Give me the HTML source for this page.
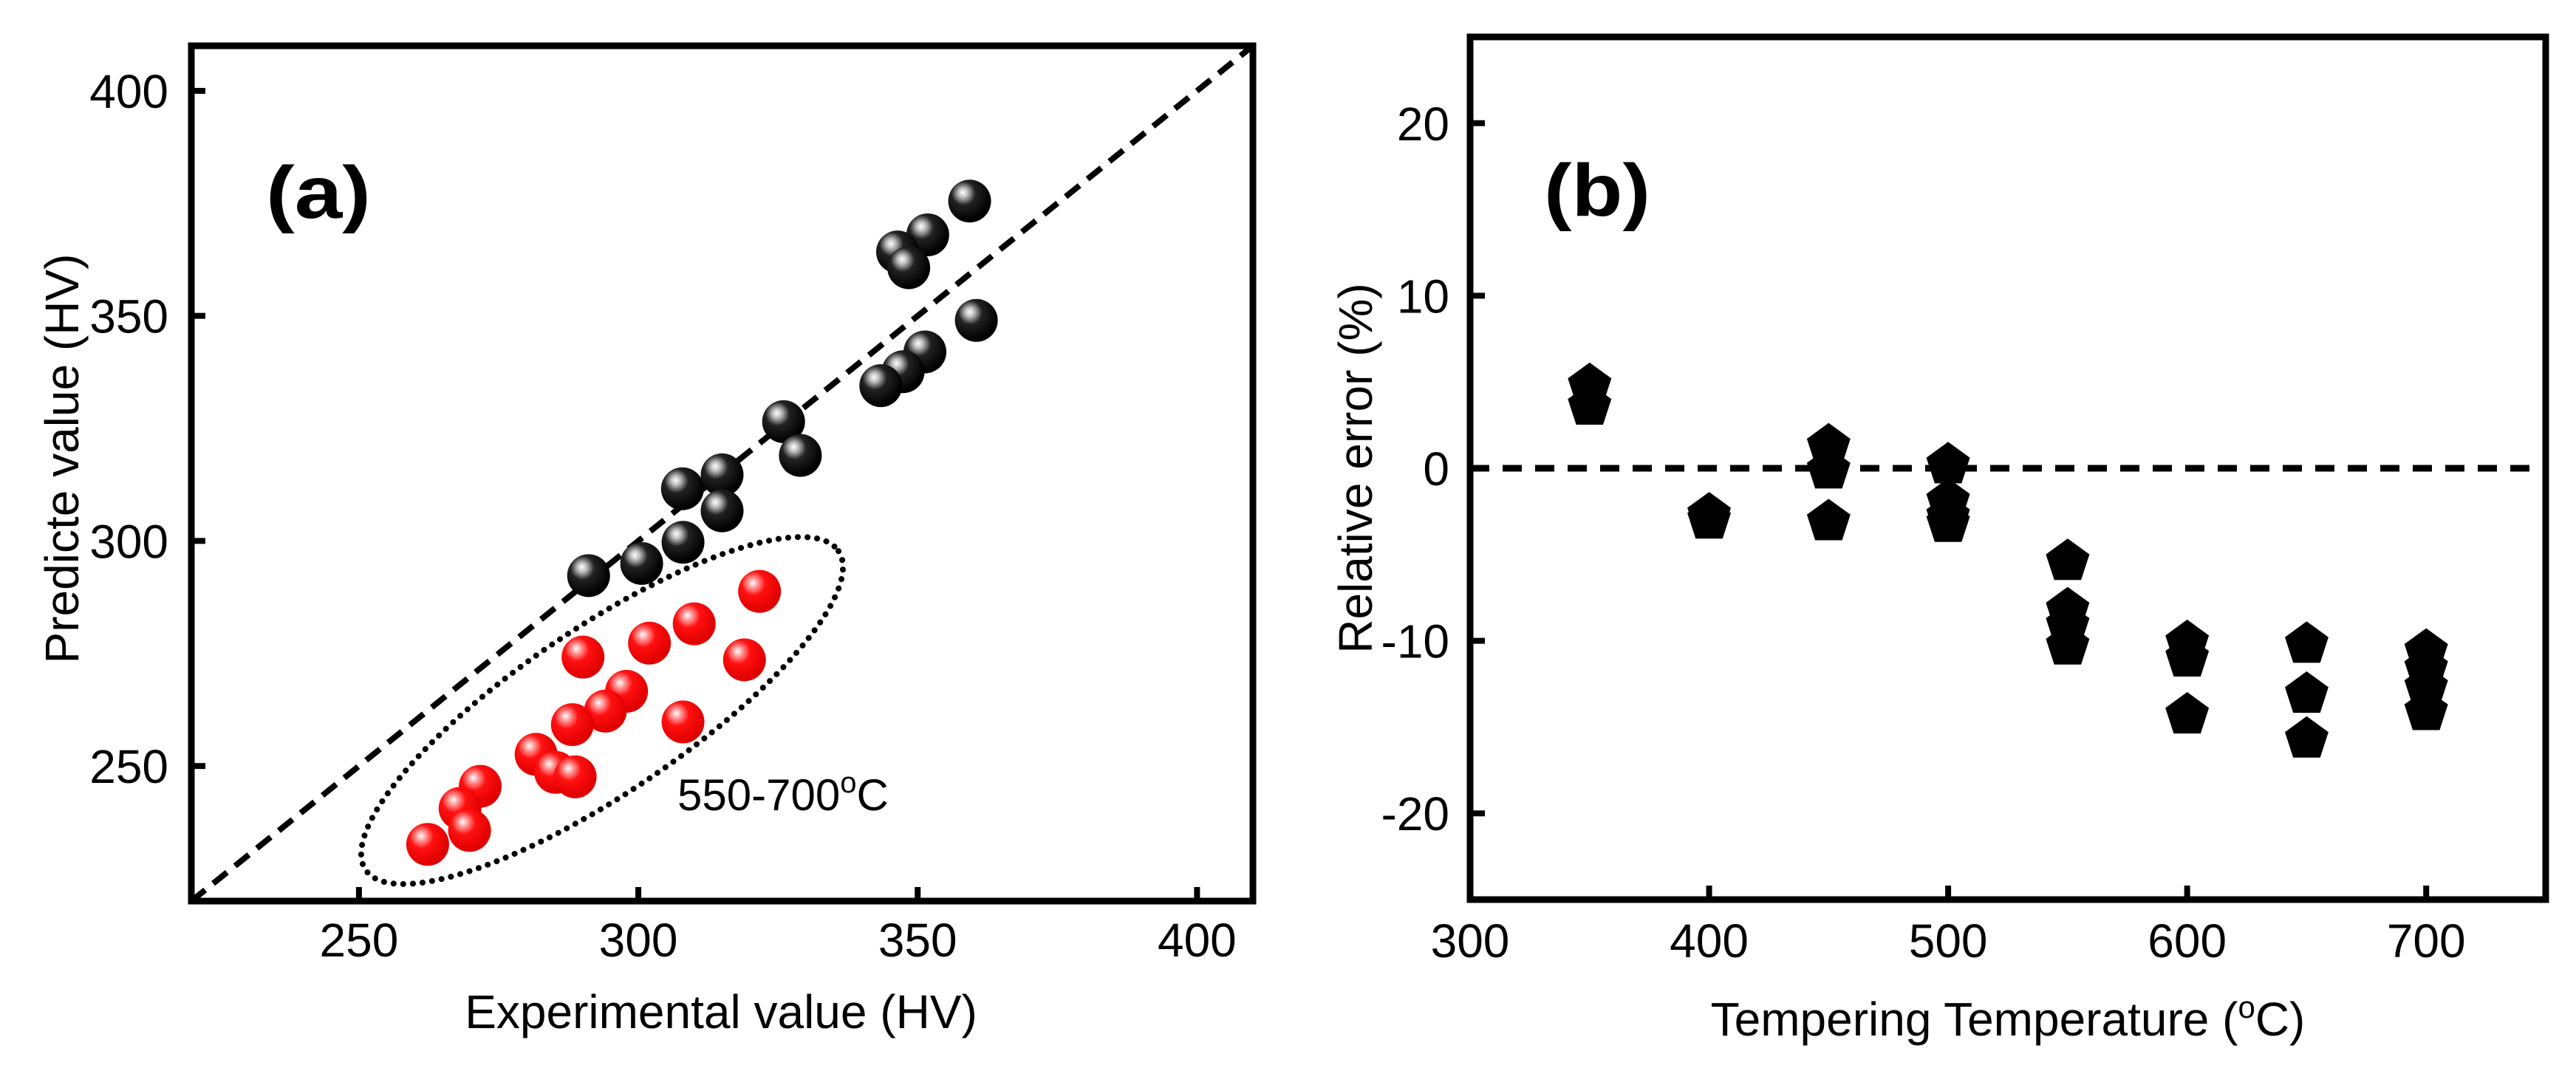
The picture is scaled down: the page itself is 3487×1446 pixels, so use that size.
<!DOCTYPE html>
<html><head><meta charset="utf-8"><style>
html,body{margin:0;padding:0;background:#fff;}
svg{display:block;font-family:"Liberation Sans",Arial,sans-serif;}
</style></head><body>
<svg id="fig" width="3487" height="1446" viewBox="0 0 3487 1446" xmlns="http://www.w3.org/2000/svg">
<defs>
<radialGradient id="gBlack" cx="0.38" cy="0.34" r="0.62" fx="0.34" fy="0.3">
<stop offset="0" stop-color="#ffffff"/><stop offset="0.18" stop-color="#bbbbbb"/><stop offset="0.45" stop-color="#222"/><stop offset="1" stop-color="#000"/>
</radialGradient>
<radialGradient id="gRed" cx="0.38" cy="0.34" r="0.62" fx="0.34" fy="0.3">
<stop offset="0" stop-color="#ffffff"/><stop offset="0.18" stop-color="#ff9a9a"/><stop offset="0.45" stop-color="#ff1010"/><stop offset="1" stop-color="#e00000"/>
</radialGradient>
</defs>
<g id="panelA"></g>
<g id="panelB"></g>
</svg>
<script>
// Panel (a) data
const aBlackExp = [359.3,351.8,346.4,348.4,360.5,351.3,347.4,343.4,326,329,315,307.9,315,308,300.6,291.1];
const aBlackPred = [375.5,368,364.2,360.7,349,342,337.6,334.5,326.5,319,314.7,311.6,306.7,299.7,295,292.3];
const aRedExp = [321.7,310,302,290.1,319,297.9,294.1,288.2,308,281.7,285.2,288.7,271.7,268.1,269.8,262.3];
const aRedPred = [288.8,281.6,277.3,274.2,273.6,266.6,262.2,259.2,259.8,252.6,248.6,247.6,245.5,240.6,235.7,232.6];
const aTicks = [250,300,350,400];
// Panel (b) data
const bTemp = [350,350,400,400,450,450,450,500,500,500,500,550,550,550,550,600,600,600,650,650,650,700,700,700,700];
const bErr = [4.8,3.6,-2.7,-3.0,1.3,-0.1,-3.1,0.2,-1.9,-2.8,-3.2,-5.4,-8.2,-9.1,-10.3,-10.1,-11.0,-14.3,-10.2,-13.1,-15.7,-10.6,-11.6,-12.7,-14.1];
const bXTicks = [300,400,500,600,700];
const bYTicks = [-20,-10,0,10,20];

const NS="http://www.w3.org/2000/svg";
function mk(tag, attrs, parent){const e=document.createElementNS(NS,tag);for(const k in attrs)e.setAttribute(k,attrs[k]);parent.appendChild(e);return e;}

// ---- Panel A ----
const A = {x0:259,x1:1696,y0:62,y1:1220,min:220,max:410};
const ax = v => A.x0+(v-A.min)/(A.max-A.min)*(A.x1-A.x0);
const ay = v => A.y1-(v-A.min)/(A.max-A.min)*(A.y1-A.y0);
const pa = document.getElementById('panelA');

const diag = mk('line',{x1:ax(220),y1:ay(220),x2:ax(410),y2:ay(410),stroke:'#000','stroke-width':8,'stroke-dasharray':'24 14'},pa);



const ell = mk('ellipse',{cx:815,cy:962,rx:386,ry:112,transform:'rotate(-34 815 962)',fill:'none',stroke:'#000','stroke-width':8,'stroke-dasharray':'0.1 13','stroke-linecap':'round'},pa);



const elab = mk('text',{x:917,y:1097,'font-size':60,fill:'#000'},pa);
elab.innerHTML='550-700<tspan dy="-24" font-size="40">o</tspan><tspan dy="24">C</tspan>';



for(let i=0;i<aBlackExp.length;i++){
  const c=mk('circle',{cx:ax(aBlackExp[i]),cy:ay(aBlackPred[i]),r:29,fill:'url(#gBlack)'},pa);
  
  
}
for(let i=0;i<aRedExp.length;i++){
  const c=mk('circle',{cx:ax(aRedExp[i]),cy:ay(aRedPred[i]),r:29,fill:'url(#gRed)'},pa);
  
  
}
const frameA = mk('rect',{x:A.x0,y:A.y0,width:A.x1-A.x0,height:A.y1-A.y0,fill:'none',stroke:'#000','stroke-width':9},pa);


aTicks.forEach(t=>{
  const tx=mk('line',{x1:ax(t),x2:ax(t),y1:A.y1,y2:A.y1-19,stroke:'#000','stroke-width':8},pa);
  
  
  const lx=mk('text',{x:ax(t),y:A.y1+75,'font-size':64,'text-anchor':'middle'},pa);
  lx.textContent=t;
  
  
  const ty=mk('line',{x1:A.x0,x2:A.x0+19,y1:ay(t),y2:ay(t),stroke:'#000','stroke-width':8},pa);
  
  
  const ly=mk('text',{x:228,y:ay(t)+23,'font-size':64,'text-anchor':'end'},pa);
  ly.textContent=t;
  
  
});
const xta=mk('text',{x:976,y:1392,'font-size':64,'text-anchor':'middle'},pa);
xta.textContent='Experimental value (HV)';


const yta=mk('text',{x:0,y:0,'font-size':64,'text-anchor':'middle',transform:'translate(106 621) rotate(-90)'},pa);
yta.textContent='Predicte value (HV)';


const la=mk('text',{x:360,y:295,'font-size':100,'font-weight':'bold',textLength:142,lengthAdjust:'spacingAndGlyphs'},pa);
la.textContent='(a)';



// ---- Panel B ----
const B = {x0:1990,x1:3446,y0:50,y1:1218,xmin:300,xmax:750,ymin:-25,ymax:25};
const bx = v => B.x0+(v-B.xmin)/(B.xmax-B.xmin)*(B.x1-B.x0);
const by = v => B.y1-(v-B.ymin)/(B.ymax-B.ymin)*(B.y1-B.y0);
const pb = document.getElementById('panelB');

const zl = mk('line',{x1:bx(300),x2:bx(750),y1:by(0),y2:by(0),stroke:'#000','stroke-width':9,'stroke-dasharray':'26 18'},pb);



function pent(cx,cy,r){let p=[];for(let k=0;k<5;k++){const a=-Math.PI/2+k*2*Math.PI/5;p.push((cx+r*Math.cos(a)).toFixed(1)+','+(cy+r*Math.sin(a)).toFixed(1));}return p.join(' ');}
for(let i=0;i<bTemp.length;i++){
  const p=mk('polygon',{points:pent(bx(bTemp[i]),by(bErr[i]),31),fill:'#000'},pb);
  
  
}
const frameB = mk('rect',{x:B.x0,y:B.y0,width:B.x1-B.x0,height:B.y1-B.y0,fill:'none',stroke:'#000','stroke-width':9},pb);


bXTicks.forEach(t=>{
  const tx=mk('line',{x1:bx(t),x2:bx(t),y1:B.y1,y2:B.y1-19,stroke:'#000','stroke-width':8},pb);
  
  
  const lx=mk('text',{x:bx(t),y:B.y1+78,'font-size':64,'text-anchor':'middle'},pb);
  lx.textContent=t;
  
  
});
bYTicks.forEach(t=>{
  const ty=mk('line',{x1:B.x0,x2:B.x0+20,y1:by(t),y2:by(t),stroke:'#000','stroke-width':8},pb);
  
  
  const ly=mk('text',{x:1962,y:by(t)+23,'font-size':64,'text-anchor':'end'},pb);
  ly.textContent=t;
  
  
});
const xtb=mk('text',{x:2718,y:1402,'font-size':64,'text-anchor':'middle'},pb);
xtb.innerHTML='Tempering Temperature (<tspan dy="-24" font-size="42">o</tspan><tspan dy="24">C)</tspan>';


const ytb=mk('text',{x:0,y:0,'font-size':64,'text-anchor':'middle',transform:'translate(1857 634) rotate(-90)'},pb);
ytb.textContent='Relative error (%)';


const lb=mk('text',{x:2090,y:292,'font-size':100,'font-weight':'bold',textLength:144,lengthAdjust:'spacingAndGlyphs'},pb);
lb.textContent='(b)';


</script>
</body></html>
